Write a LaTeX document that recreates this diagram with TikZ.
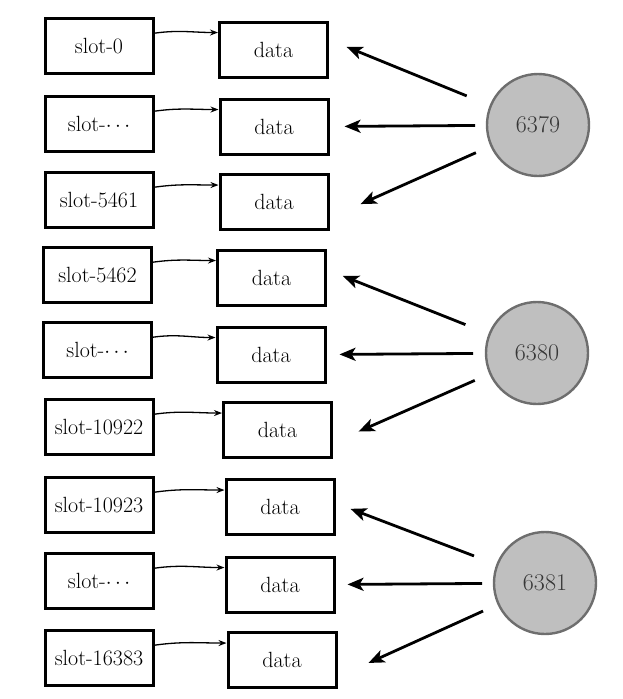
\documentclass[tikz,border=0pt]{standalone}
\usepackage{fontspec}
\usepackage{tikz}
\usetikzlibrary{arrows.meta}
\definecolor{servfill}{RGB}{191,191,191}
\definecolor{servedge}{RGB}{110,110,110}
\definecolor{servtext}{RGB}{55,55,55}

\begin{document}
\begin{tikzpicture}[x=1pt,y=-1pt,
	slotbox/.style={draw,line width=3pt,minimum width=108pt,minimum height=55pt,inner sep=0pt,font=\fontsize{22}{26}\selectfont},
	databox/.style={slotbox},
	server/.style={circle,draw=servedge,fill=servfill,line width=2.4pt,minimum size=102pt,inner sep=0pt,text=servtext,font=\fontsize{24}{28}\selectfont},
	link/.style={-{Stealth[length=8pt,width=6pt]},line width=1.3pt},
	route/.style={-{Stealth[length=16pt,width=13pt,inset=4pt]},line width=2.8pt}]
		\useasboundingbox (0,0) rectangle (623,699);
		\node[slotbox] (s1) at (99,46) {slot-0};
		\node[slotbox] (s2) at (99,124) {slot-$\cdots$};
		\node[slotbox] (s3) at (99,200) {slot-5461};
		\node[slotbox] (s4) at (97.5,275) {slot-5462};
		\node[slotbox] (s5) at (97.5,350) {slot-$\cdots$};
		\node[slotbox] (s6) at (99,427) {slot-10922};
		\node[slotbox] (s7) at (99,505) {slot-10923};
		\node[slotbox] (s8) at (99,581) {slot-$\cdots$};
		\node[slotbox] (s9) at (99,658) {slot-16383};
		\node[databox] (d1) at (273.5,49.5) {data};
		\node[databox] (d2) at (274,126.5) {data};
		\node[databox] (d3) at (274,202) {data};
		\node[databox] (d4) at (271.5,277.5) {data};
		\node[databox] (d5) at (271,354.5) {data};
		\node[databox] (d6) at (277.5,430) {data};
		\node[databox] (d7) at (280,507) {data};
		\node[databox] (d8) at (280,584.5) {data};
		\node[databox] (d9) at (282,660) {data};
		\node[server] (c1) at (538,125) {6379};
		\node[server] (c2) at (537,353) {6380};
		\node[server] (c3) at (545,583) {6381};
		\draw[link] (s1.13) to[out=8,in=180] (d1.163);
		\draw[link] (s2.13) to[out=8,in=180] (d2.163);
		\draw[link] (s3.13) to[out=8,in=180] (d3.163);
		\draw[link] (s4.13) to[out=8,in=180] (d4.163);
		\draw[link] (s5.13) to[out=8,in=180] (d5.163);
		\draw[link] (s6.13) to[out=8,in=180] (d6.163);
		\draw[link] (s7.13) to[out=8,in=180] (d7.163);
		\draw[link] (s8.13) to[out=8,in=180] (d8.163);
		\draw[link] (s9.13) to[out=8,in=180] (d9.163);
		\draw[route,shorten <=77pt,shorten >=19pt] (c1.center) -- (d1.10);
		\draw[route,shorten <=63pt,shorten >=15pt] (c1.center) -- (d2.east);
		\draw[route,shorten <=68pt,shorten >=34pt] (c1.center) -- (d3.-16);
		\draw[route,shorten <=77pt,shorten >=17pt] (c2.center) -- (d4.8);
		\draw[route,shorten <=64pt,shorten >=13pt] (c2.center) -- (d5.east);
		\draw[route,shorten <=68pt,shorten >=28pt] (c2.center) -- (d6.-13);
		\draw[route,shorten <=76pt,shorten >=16pt] (c3.center) -- (d7.4);
		\draw[route,shorten <=63pt,shorten >=12pt] (c3.center) -- (d8.east);
		\draw[route,shorten <=68pt,shorten >=34pt] (c3.center) -- (d9.-17);
\end{tikzpicture}
\end{document}
